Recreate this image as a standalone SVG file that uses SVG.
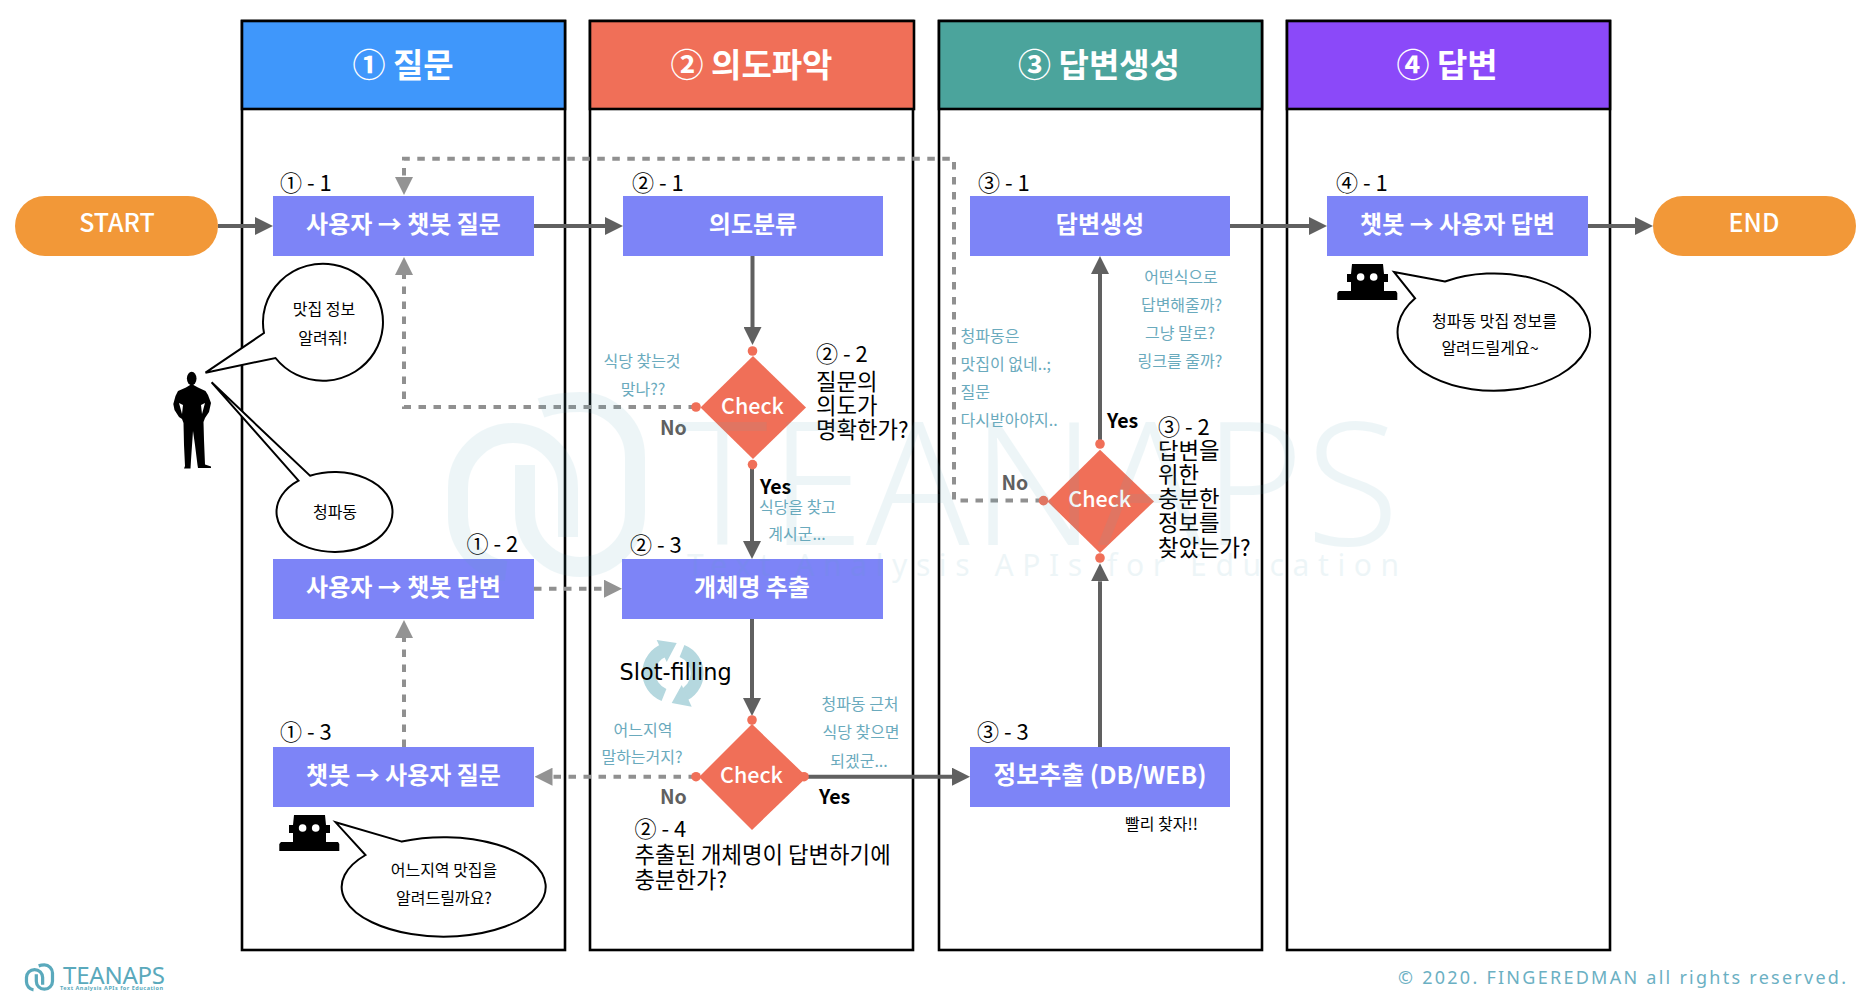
<svg xmlns="http://www.w3.org/2000/svg" width="1870" height="1002" viewBox="0 0 1870 1002">
<style>
text{font-family:"Noto Sans CJK KR","Noto Sans",sans-serif}
.col{fill:#fff;stroke:#000;stroke-width:2.6}
.head{stroke:#000;stroke-width:2.6}
.ht{font-size:33px;font-weight:700;fill:#fff;text-anchor:middle}
.box{fill:#7D84F7}
.bt{font-size:24px;font-weight:700;fill:#fff;text-anchor:middle}
.term{fill:#F29838}
.tt{font-size:25px;font-weight:500;fill:#fff;text-anchor:middle}
.step{font-size:22px;fill:#000}
.q{font-size:22.3px;fill:#000}
.dia{fill:#F06F58}
.ct{font-size:21.5px;font-weight:500;fill:#fff;text-anchor:middle}
.yes{font-size:19.5px;font-weight:700;fill:#000}
.no{font-size:19.5px;font-weight:700;fill:#606060}
.note{font-size:16px;font-weight:400;fill:#6AAABD;text-anchor:middle}
.notel{font-size:16px;font-weight:400;fill:#6AAABD}
.say{font-size:16px;font-weight:400;fill:#000;text-anchor:middle}
.bub{fill:#fff;stroke:#000;stroke-width:2}
.solid{fill:none;stroke:#606060;stroke-width:4}
.dash{fill:none;stroke:#909090;stroke-width:4;stroke-dasharray:7.5 7.5}
.wm{fill:none;stroke:#5AA9BC;stroke-width:20}
</style>
<defs>
<marker id="hs" markerUnits="userSpaceOnUse" markerWidth="18" markerHeight="18" refX="0" refY="9" orient="auto"><path d="M0 0L18 9L0 18Z" fill="#606060"/></marker>
<marker id="hd" markerUnits="userSpaceOnUse" markerWidth="18" markerHeight="18" refX="0" refY="9" orient="auto"><path d="M0 0L18 9L0 18Z" fill="#939393"/></marker>
<g id="robot"><path d="M1352 264H1383L1384 274H1388V282H1384V291H1396L1397.3 293V300H1337.3V293L1339 291H1351V282H1347V274H1351Z" fill="#000"/><circle cx="1360.6" cy="277" r="3.8" fill="#fff"/><circle cx="1373.7" cy="277" r="3.8" fill="#fff"/></g>
<g id="logo"><path d="M568 537V488A55 55 0 0 0 458 488V517A55 55 0 0 0 506 571"/><path d="M525 465V512A55 55 0 0 0 635 512V457A55 55 0 0 0 580 402Q558 402 541 408"/></g>
</defs>
<rect width="1870" height="1002" fill="#fff"/>

<g id="lane1"><rect class="col" x="242" y="21" width="323" height="929"/><rect class="head" x="242" y="21" width="323" height="88" fill="#3F97FB"/><text class="ht" x="403" y="77">① 질문</text></g>
<g id="lane2"><rect class="col" x="590" y="21" width="323" height="929"/><rect class="head" x="590" y="21" width="324" height="88" fill="#F06F58"/><text class="ht" x="751.500" y="77">② 의도파악</text></g>
<g id="lane3"><rect class="col" x="939" y="21" width="323" height="929"/><rect class="head" x="939" y="21" width="323" height="88" fill="#4BA49C"/><text class="ht" x="1099" y="77">③ 답변생성</text></g>
<g id="lane4"><rect class="col" x="1287" y="21" width="323" height="929"/><rect class="head" x="1287" y="21" width="323" height="88" fill="#8B49F9"/><text class="ht" x="1447" y="77">④ 답변</text></g>

<g id="connectors">
<path class="dash" d="M1043 500.600H954V158.800H404V177" marker-end="url(#hd)"/>
<path class="dash" d="M696 407H404V275" marker-end="url(#hd)"/>
<path class="dash" d="M534 588.700H604" marker-end="url(#hd)"/>
<path class="dash" d="M404 747V638" marker-end="url(#hd)"/>
<path class="dash" d="M696 776.700H552.500" marker-end="url(#hd)"/>
<path class="solid" d="M218 226H255" marker-end="url(#hs)"/>
<path class="solid" d="M534 226H605" marker-end="url(#hs)"/>
<path class="solid" d="M752.500 256V327" marker-end="url(#hs)"/>
<path class="solid" d="M752 465V541" marker-end="url(#hs)"/>
<path class="solid" d="M752 619V698" marker-end="url(#hs)"/>
<path class="solid" d="M804 776.700H952" marker-end="url(#hs)"/>
<path class="solid" d="M1100 747V581.300" marker-end="url(#hs)"/>
<path class="solid" d="M1100 444V274" marker-end="url(#hs)"/>
<path class="solid" d="M1230 226H1309" marker-end="url(#hs)"/>
<path class="solid" d="M1588 226H1635" marker-end="url(#hs)"/>
</g>

<g id="start"><rect class="term" x="15" y="196" width="203" height="60" rx="30"/><text class="tt" x="117" y="232">START</text></g>
<g id="end"><rect class="term" x="1653" y="196" width="203" height="60" rx="30"/><text class="tt" x="1754" y="232">END</text></g>

<g id="n1-1"><rect class="box" x="273" y="196" width="261" height="60"/><text class="bt" x="403.500" y="233">사용자 → 챗봇 질문</text><text class="step" x="280" y="190.500">① - 1</text></g>
<g id="n1-2"><rect class="box" x="273" y="559" width="261" height="60"/><text class="bt" x="403.500" y="596">사용자 → 챗봇 답변</text><text class="step" x="466.500" y="552">① - 2</text></g>
<g id="n1-3"><rect class="box" x="273" y="747" width="261" height="60"/><text class="bt" x="403.500" y="784">챗봇 → 사용자 질문</text><text class="step" x="280" y="740">① - 3</text></g>
<g id="n2-1"><rect class="box" x="623" y="196" width="260" height="60"/><text class="bt" x="753" y="233">의도분류</text><text class="step" x="632" y="191">② - 1</text></g>
<g id="n2-2"><path class="dia" d="M753 356L806 407.500L753 459L700.500 407.500Z"/><circle class="dia" cx="752.500" cy="351" r="4.800"/><circle class="dia" cx="752.500" cy="464.600" r="4.800"/><circle class="dia" cx="696" cy="407" r="4.800"/><text class="ct" x="752.500" y="414">Check</text><text class="step" x="816" y="362">② - 2</text><text class="q" x="816" y="390">질문의</text><text class="q" x="816" y="413.500">의도가</text><text class="q" x="816" y="437.500">명확한가?</text><text class="no" x="660" y="435">No</text><text class="yes" x="760" y="493.500">Yes</text></g>
<g id="n2-3"><rect class="box" x="622" y="559" width="261" height="60"/><text class="bt" x="752" y="596">개체명 추출</text><text class="step" x="630" y="553">② - 3</text></g>
<g id="n2-4"><path class="dia" d="M752 724L807 777L752 830L699 777Z"/><circle class="dia" cx="752" cy="720" r="4.800"/><circle class="dia" cx="696" cy="776.700" r="4.800"/><circle class="dia" cx="804" cy="776.700" r="4.800"/><text class="ct" x="751.500" y="783">Check</text><text class="step" x="634.500" y="837">② - 4</text><text class="q" x="634.500" y="863">추출된 개체명이 답변하기에</text><text class="q" x="634.500" y="888">충분한가?</text><text class="no" x="660" y="804">No</text><text class="yes" x="819" y="804">Yes</text></g>
<g id="slot"><path d="M664 695A24 24 0 0 1 665 650" fill="none" stroke="#B5D8DF" stroke-width="13"/><path d="M682 651A24 24 0 0 1 681 696" fill="none" stroke="#B5D8DF" stroke-width="13"/><path d="M656.700 640L676.700 643L666.700 662Z" fill="#B5D8DF"/><path d="M691.700 706.700L671.700 703L681.700 685Z" fill="#B5D8DF"/><text x="619.500" y="679.500" font-size="22.400" style="font-family:'DejaVu Sans',sans-serif">Slot-filling</text></g>
<g id="n3-1"><rect class="box" x="970" y="196" width="260" height="60"/><text class="bt" x="1100" y="233">답변생성</text><text class="step" x="978" y="191">③ - 1</text></g>
<g id="n3-2"><path class="dia" d="M1100 449.700L1154 501.500L1100 553L1047.500 501.500Z"/><circle class="dia" cx="1100" cy="444" r="4.800"/><circle class="dia" cx="1100" cy="558" r="4.800"/><circle class="dia" cx="1043.500" cy="500.600" r="4.800"/><text class="ct" x="1099.700" y="507">Check</text><text class="step" x="1158" y="435">③ - 2</text><text class="q" x="1158" y="459">답변을</text><text class="q" x="1158" y="483">위한</text><text class="q" x="1158" y="507">충분한</text><text class="q" x="1158" y="531">정보를</text><text class="q" x="1158" y="556">찾았는가?</text><text class="no" x="1001.500" y="489.500">No</text><text class="yes" x="1107" y="428">Yes</text></g>
<g id="n3-3"><rect class="box" x="970" y="747" width="260" height="60"/><text class="bt" x="1100" y="784" style="font-size:24.600px">정보추출 (DB/WEB)</text><text class="step" x="977" y="740">③ - 3</text></g>
<g id="n4-1"><rect class="box" x="1327" y="196" width="261" height="60"/><text class="bt" x="1457.500" y="233">챗봇 → 사용자 답변</text><text class="step" x="1336" y="191">④ - 1</text></g>

<g id="user"><ellipse cx="191.700" cy="378.500" rx="4.800" ry="6.800" fill="#000"/><path fill-rule="evenodd" fill="#000" d="M191.700 384L186 387.500L178 391L175.500 396L173.300 404L174.500 410L179 417L182 419L183.500 423L184 445L185 466L184 468.500H190.500L191 460L193 431L195 445L197.500 465L198 468H211V466.500L205 464.500L204 440L203.500 422L205 418L209 412L211 403L208 395L205.500 391L198 387.500ZM179 403L183 405L182 414ZM205 403L201 405L202 414Z"/></g>
<g id="bubble1"><path class="bub" d="M264 333L205.500 372.700L275.500 358A60 58.500 0 1 0 264 333Z"/><text class="say" x="324" y="315">맛집 정보</text><text class="say" x="323" y="344">알려줘!</text></g>
<g id="bubble2"><path class="bub" d="M298.500 480.600L211.600 382.300L310 475.700A58 40 0 1 1 298.500 480.600Z"/><text class="say" x="335" y="518">청파동</text></g>
<g id="bot1"><use href="#robot" transform="translate(-1058 551)"/></g>
<g id="bubble3"><path class="bub" d="M401.800 841.600L335.600 822.300L365.500 855A102 49.700 0 1 0 401.800 841.600Z"/><text class="say" x="444" y="875.500">어느지역 맛집을</text><text class="say" x="444" y="903.500">알려드릴까요?</text></g>
<g id="bot4"><use href="#robot"/></g>
<g id="bubble4"><path class="bub" d="M1445 281.500L1394 272L1415.100 298.300A96.300 58.700 0 1 0 1445 281.500Z"/><text class="say" x="1494.500" y="327">청파동 맛집 정보를</text><text class="say" x="1490" y="354">알려드릴게요~</text></g>

<g id="notes">
<text class="note" x="642" y="367">식당 찾는것</text><text class="note" x="643" y="395">맞나??</text>
<text class="note" x="797.500" y="512.500">식당을 찾고</text><text class="note" x="797" y="540">계시군...</text>
<text class="note" x="1181" y="283">어떤식으로</text><text class="note" x="1181.500" y="311">답변해줄까?</text><text class="note" x="1180" y="339">그냥 말로?</text><text class="note" x="1180" y="367">링크를 줄까?</text>
<text class="notel" x="960.500" y="342">청파동은</text><text class="notel" x="960.500" y="370">맛집이 없네..;</text><text class="notel" x="960.500" y="398">질문</text><text class="notel" x="960.500" y="426">다시받아야지..</text>
<text class="note" x="643" y="735.500">어느지역</text><text class="note" x="642" y="763">말하는거지?</text>
<text class="note" x="860" y="709.500">청파동 근처</text><text class="note" x="861" y="738">식당 찾으면</text><text class="note" x="859" y="767">되겠군...</text>
<text class="say" x="1161.500" y="830">빨리 찾자!!</text>
</g>

<g id="watermark" opacity="0.1">
<use href="#logo" class="wm"/>
<text x="677" y="545" font-size="171" font-weight="300" fill="#5AA9BC" textLength="722" style="font-family:'Noto Sans',sans-serif">TEANAPS</text>
<text x="687" y="576" font-size="30" fill="#5AA9BC" textLength="712" style="font-family:'Noto Sans',sans-serif">Text Analysis APIs for Education</text>
</g>

<g id="brand">
<use href="#logo" fill="none" stroke="#5AA9BC" stroke-width="22" transform="translate(25 963.500) scale(0.147) translate(-448 -392)"/>
<text x="63" y="984" font-size="24" font-weight="400" fill="#5AA9BC" textLength="102" style="font-family:'Noto Sans',sans-serif">TEANAPS</text>
<text x="60" y="990" font-size="5.500" font-weight="700" fill="#5AA9BC" textLength="103" style="font-family:'Noto Sans',sans-serif">Text Analysis APIs for Education</text>
<text x="1398" y="983.500" font-size="18" fill="#6BB0C3" textLength="448" style="font-family:'Noto Sans',sans-serif">© 2020. FINGEREDMAN all rights reserved.</text>
</g>
</svg>
